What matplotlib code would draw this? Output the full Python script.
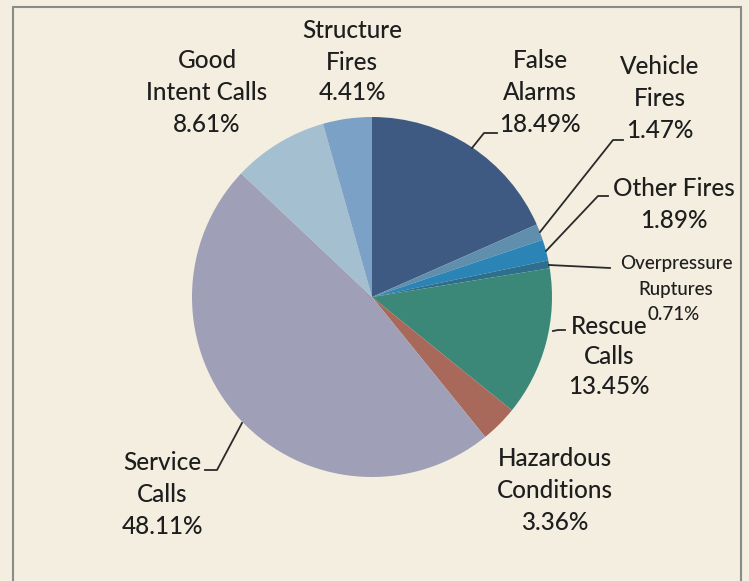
import matplotlib
matplotlib.use("Agg")
import matplotlib.pyplot as plt

# ---- data ----
categories = ["False Alarms", "Vehicle Fires", "Other Fires", "Overpressure Ruptures",
              "Rescue Calls", "Hazardous Conditions", "Service Calls",
              "Good Intent Calls", "Structure Fires"]
values = [18.49, 1.47, 1.89, 0.71, 13.45, 3.36, 48.11, 8.61, 4.41]
colors = ["#3f5a82", "#5f8fad", "#2a84b6", "#2f6f8e", "#3c8878",
          "#a8695a", "#9fa0b7", "#a4bfcf", "#7ba1c7"]
label_lines = [
    ["False", "Alarms", "18.49%"],
    ["Vehicle", "Fires", "1.47%"],
    ["Other Fires", "1.89%"],
    ["Overpressure", "Ruptures", "0.71%"],
    ["Rescue", "Calls", "13.45%"],
    ["Hazardous", "Conditions", "3.36%"],
    ["Service", "Calls", "48.11%"],
    ["Good", "Intent Calls", "8.61%"],
    ["Structure", "Fires", "4.41%"],
]

W, H = 749, 581
fig = plt.figure(figsize=(W / 100, H / 100), dpi=100)
bg = "#f3eedf"
fig.patch.set_facecolor(bg)
ax = fig.add_axes([0, 0, 1, 1])
ax.set_facecolor(bg)

def Y(py):
    return H - py

cx, cy, r = 372, 297, 180
ax.pie(values, colors=colors, startangle=90, counterclock=False,
       center=(cx, Y(cy)), radius=r, frame=True,
       wedgeprops=dict(linewidth=0))
ax.set_xlim(0, W)
ax.set_ylim(0, H)
ax.set_aspect("equal")
ax.axis("off")

# border
ax.plot([13, 13, 741, 741], [Y(590), Y(7), Y(7), Y(590)], color="#8a8a8a", lw=1.5,
        solid_joinstyle="miter")

# label layout: (x center, y of each line, fontsize)
layout = [
    (540, [60, 92, 125], 17.5),
    (660, [66, 98, 131], 17.5),
    (674, [188, 220], 17.5),
    (676, [263, 289, 314], 13.5),
    (609, [326, 356, 387], 17.5),
    (555, [458, 490, 522], 17.5),
    (162, [463, 495, 527], 17.5),
    (207, [60, 92, 125], 17.5),
    (352, [30, 62, 93], 17.5),
]
offsets = {3: [0, 0, -2], 4: [0, 0, 0]}
for i, (lines, (x, ys, fs)) in enumerate(zip(label_lines, layout)):
    for j, (t, yy) in enumerate(zip(lines, ys)):
        dx = offsets.get(i, [0, 0, 0])[j]
        ax.text(x + dx, Y(yy), t, ha="center", va="center", fontsize=fs,
                family=["Lato", "DejaVu Sans"], fontweight="medium",
                color="#1e1e1e")

# leader lines (pixel coordinates)
leaders = [
    [(472, 148), (484, 133), (497, 133)],
    [(540, 232), (613, 140), (623, 140)],
    [(546, 251), (598, 196), (608, 196)],
    [(549, 265), (610, 268)],
    [(553, 331), (558, 330), (565, 330)],
    [(242, 423), (217, 470), (205, 470)],
]
for pts in leaders:
    xs = [p[0] for p in pts]
    ys = [Y(p[1]) for p in pts]
    ax.plot(xs, ys, color="#2a2a2a", lw=1.3)

fig.savefig("out.png", dpi=100, facecolor=bg)
